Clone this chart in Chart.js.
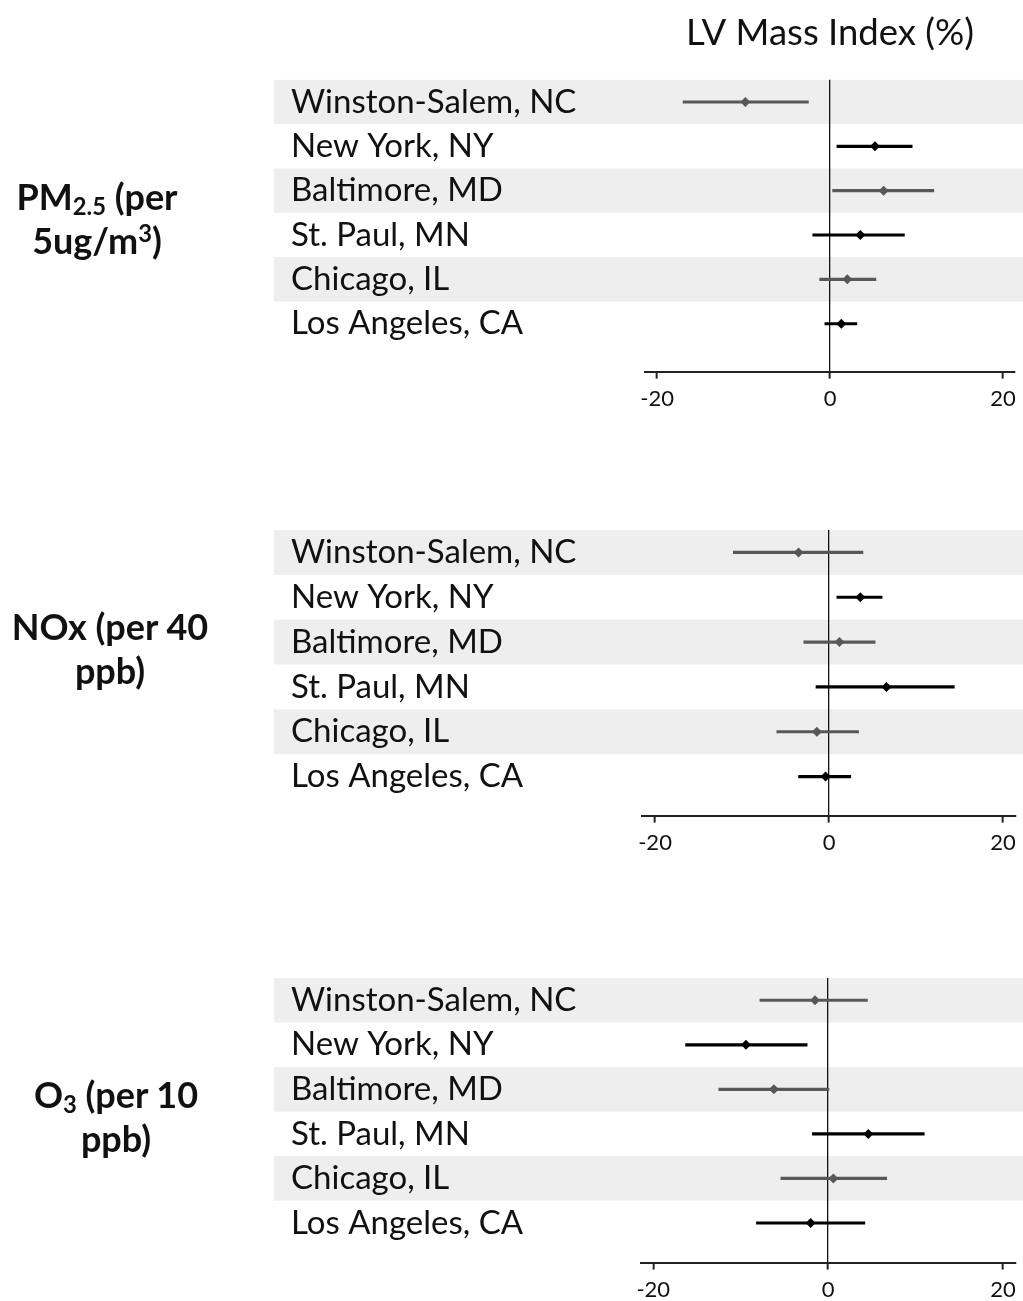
<!DOCTYPE html>
<html>
<head>
<meta charset="utf-8">
<script src="https://cdn.jsdelivr.net/npm/chart.js@4.4.0/dist/chart.umd.min.js"></script>
<style>
  html, body { margin: 0; padding: 0; background: #fff; }
  body { position: relative; width: 1023px; height: 1301px; overflow: hidden; }
  canvas.panel { position: absolute; left: 0; }
  .group {
    position: absolute; width: 200px; text-align: center;
    font: bold 36px/44px Lato, sans-serif; color: #111;
  }
  .group sub { font-size: 0.66em; line-height: 0; vertical-align: -0.22em; }
  .group sup { font-size: 0.66em; line-height: 0; vertical-align: 0.5em; }
</style>
</head>
<body>
<canvas id="pm25" class="panel" width="1023" height="423" style="top:0px"></canvas>
<canvas id="nox" class="panel" width="1023" height="417" style="top:450px"></canvas>
<canvas id="o3" class="panel" width="1023" height="416" style="top:898px"></canvas>

<div class="group" style="left:-3px; top:174px">PM<sub>2.5</sub> (per<br>5ug/m<sup>3</sup>)</div>
<div class="group" style="left:10px; top:604px">NOx (per 40<br>ppb)</div>
<div class="group" style="left:16px; top:1072px">O<sub>3</sub> (per 10<br>ppb)</div>

<script>
// 城市（由上到下）
const cities = ['Winston-Salem, NC', 'New York, NY', 'Baltimore, MD',
                'St. Paul, MN', 'Chicago, IL', 'Los Angeles, CA'];
const xTicks = [-20, 0, 20];

// PM2.5 (per 5ug/m3)
const pm25Est = [-9.8, 5.2, 6.2, 3.5, 2.0, 1.3];
const pm25Lo  = [-17.0, 0.8, 0.3, -2.0, -1.2, -0.6];
const pm25Hi  = [-2.5, 9.5, 12.0, 8.6, 5.3, 3.1];

// NOx (per 40 ppb)
const noxEst = [-3.5, 3.6, 1.2, 6.6, -1.4, -0.4];
const noxLo  = [-11.0, 0.9, -2.9, -1.5, -6.0, -3.5];
const noxHi  = [3.9, 6.1, 5.3, 14.4, 3.4, 2.5];

// O3 (per 10 ppb)
const o3Est = [-1.5, -9.4, -6.2, 4.6, 0.6, -2.0];
const o3Lo  = [-7.8, -16.3, -12.5, -1.8, -5.4, -8.2];
const o3Hi  = [4.5, -2.4, 0.1, 11.0, 6.7, 4.2];

const GRAY  = '#585858';
const BLACK = '#000000';
const BAND  = '#eeeeee';
const FONT  = 'Lato, sans-serif';

const rowColor = i => (i % 2 === 0 ? GRAY : BLACK);

// 交錯灰底條紋，從標籤左側一直延伸到畫布右緣
const bandPlugin = {
  id: 'bands',
  beforeDraw(chart) {
    const { ctx, scales: { y }, width } = chart;
    ctx.save();
    ctx.fillStyle = BAND;
    cities.forEach((_, i) => {
      if (i % 2 !== 0) return;
      const y0 = y.getPixelForValue(i - 0.5);
      const y1 = y.getPixelForValue(i + 0.5);
      ctx.fillRect(274, y0, width - 274, y1 - y0);
    });
    ctx.restore();
  },
};

function makePanel(id, est, lo, hi, box, title) {
  const ctx = document.getElementById(id).getContext('2d');
  return new Chart(ctx, {
    type: 'scatter',
    data: {
      datasets: [
        {
          type: 'scatter',
          data: est.map((v, i) => ({ x: v, y: i })),
          pointStyle: 'rectRot',
          pointRadius: 5,
          pointBackgroundColor: est.map((_, i) => rowColor(i)),
          pointBorderWidth: 0,
        },
        {
          type: 'bar',
          indexAxis: 'y',
          data: lo.map((l, i) => ({ x: [l, hi[i]], y: i })),
          backgroundColor: lo.map((_, i) => rowColor(i)),
          borderWidth: 0,
          barThickness: 2.5,
        },
      ],
    },
    options: {
      responsive: false,
      animation: false,
      events: [],
      layout: { padding: { left: 291, right: box.rightPad, top: title ? 0 : 80, bottom: 4 } },
      scales: {
        x: {
          type: 'linear',
          min: box.xMin,
          max: box.xMax,
          afterBuildTicks: s => { s.ticks = xTicks.map(v => ({ value: v })); },
          ticks: {
            callback: v => String(v),
            color: '#111',
            font: { family: FONT, size: 22 },
            padding: 7,
            maxRotation: 0,
          },
          grid: {
            color: c => (c.tick && c.tick.value === 0 ? '#111' : 'rgba(0,0,0,0)'),
            lineWidth: 1.3,
            tickColor: '#222',
            tickLength: 7,
            tickWidth: 2,
          },
          border: { display: true, color: '#222', width: 2 },
        },
        y: {
          type: 'linear',
          reverse: true,
          offset: false,
          min: -0.5,
          max: box.yMax,
          afterBuildTicks: s => { s.ticks = cities.map((_, i) => ({ value: i })); },
          afterFit: s => { s.width = box.left - 291; },
          ticks: {
            callback: v => cities[v],
            crossAlign: 'far',
            autoSkip: false,
            color: '#111',
            font: { family: FONT, size: 33 },
          },
          grid: { display: false, offset: false },
          border: { display: false },
        },
      },
      plugins: {
        legend: { display: false },
        tooltip: { enabled: false },
        title: {
          display: !!title,
          text: title || '',
          fullSize: false,
          color: '#111',
          font: { family: FONT, size: 36.5, weight: 'normal' },
          padding: { top: 11, bottom: 25 },
        },
      },
    },
    plugins: [bandPlugin],
  });
}

makePanel('pm25', pm25Est, pm25Lo, pm25Hi,
  { left: 645, rightPad: 3, xMin: -21.4, xMax: 21.4, yMax: 6.08 }, 'LV Mass Index (%)');
makePanel('nox', noxEst, noxLo, noxHi,
  { left: 642, rightPad: 5, xMin: -21.5, xMax: 21.5, yMax: 5.87 });
makePanel('o3', o3Est, o3Lo, o3Hi,
  { left: 641, rightPad: 5, xMin: -21.4, xMax: 21.4, yMax: 5.89 });
</script>
</body>
</html>
